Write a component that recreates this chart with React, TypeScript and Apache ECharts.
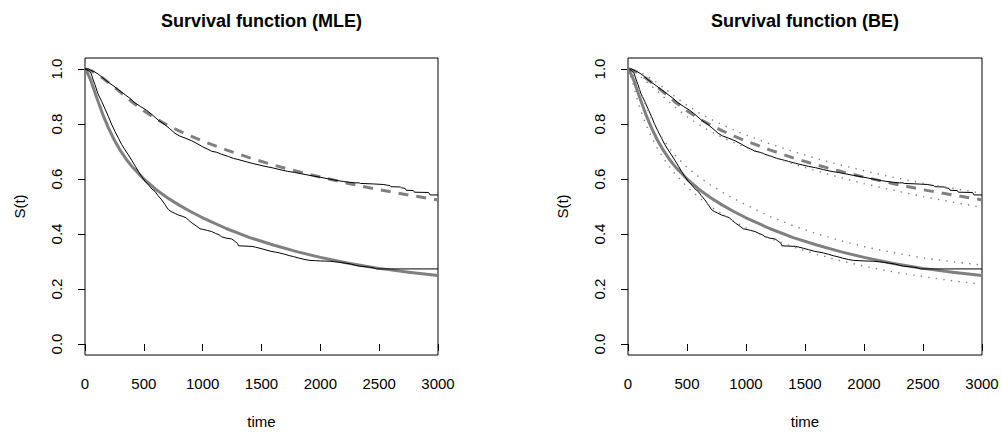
import React, { useEffect, useRef } from "react";
import * as echarts from "echarts";

// ---- data ----
const TIME_GRID = [0, 25, 50, 75, 100, 150, 200, 250, 300, 350, 400, 500, 600, 700, 800, 900, 1000, 1200, 1400, 1600, 1800, 2000, 2250, 2500, 2750, 3000];

// fitted parametric survival curves
const FIT_UPPER = [1.0, 0.998, 0.994, 0.988, 0.981, 0.967, 0.951, 0.934, 0.916, 0.898, 0.88, 0.848, 0.82, 0.796, 0.775, 0.756, 0.738, 0.706, 0.677, 0.651, 0.628, 0.607, 0.583, 0.561, 0.542, 0.524];
const FIT_LOWER = [1.0, 0.982, 0.958, 0.926, 0.895, 0.836, 0.785, 0.741, 0.704, 0.672, 0.645, 0.6, 0.563, 0.532, 0.505, 0.481, 0.459, 0.42, 0.387, 0.36, 0.336, 0.315, 0.293, 0.275, 0.261, 0.249];

// credible bands (BE panel, dotted)
const BAND_UPPER_HI = [1.0, 0.999, 0.997, 0.993, 0.988, 0.977, 0.964, 0.949, 0.933, 0.916, 0.899, 0.868, 0.841, 0.818, 0.797, 0.778, 0.76, 0.728, 0.7, 0.674, 0.651, 0.63, 0.606, 0.585, 0.566, 0.548];
const BAND_UPPER_LO = [1.0, 0.997, 0.991, 0.983, 0.974, 0.956, 0.938, 0.919, 0.899, 0.88, 0.861, 0.827, 0.798, 0.773, 0.751, 0.732, 0.715, 0.684, 0.655, 0.629, 0.605, 0.583, 0.559, 0.536, 0.516, 0.497];
const BAND_LOWER_HI = [1.0, 0.99, 0.972, 0.948, 0.922, 0.868, 0.82, 0.778, 0.742, 0.712, 0.686, 0.643, 0.608, 0.578, 0.552, 0.528, 0.506, 0.464, 0.43, 0.401, 0.376, 0.354, 0.332, 0.313, 0.299, 0.287];
const BAND_LOWER_LO = [1.0, 0.972, 0.935, 0.895, 0.858, 0.8, 0.752, 0.711, 0.676, 0.645, 0.618, 0.572, 0.533, 0.5, 0.471, 0.445, 0.422, 0.385, 0.353, 0.326, 0.303, 0.283, 0.262, 0.245, 0.23, 0.217];

// Kaplan-Meier estimates (traced outline)
const KM_UPPER_T = [0, 30, 50, 80, 110, 140, 170, 200, 240, 283, 330, 380, 425, 470, 520, 567, 620, 680, 720, 765, 800, 850, 907, 960, 1000, 1040, 1076, 1120, 1160, 1218, 1260, 1300, 1360, 1420, 1480, 1530, 1590, 1657, 1720, 1780, 1840, 1912, 1980, 2040, 2100, 2150, 2195, 2250, 2300, 2330, 2340, 2450, 2540, 2560, 2592, 2600, 2680, 2690, 2720, 2730, 2790, 2800, 2920, 2932, 3000];
const KM_UPPER_S = [1, 1, 0.995, 0.99, 0.982, 0.972, 0.961, 0.951, 0.939, 0.925, 0.91, 0.894, 0.877, 0.864, 0.851, 0.835, 0.815, 0.797, 0.783, 0.766, 0.757, 0.749, 0.739, 0.727, 0.717, 0.709, 0.701, 0.697, 0.69, 0.682, 0.675, 0.671, 0.664, 0.657, 0.651, 0.646, 0.641, 0.634, 0.628, 0.624, 0.619, 0.613, 0.608, 0.603, 0.598, 0.594, 0.591, 0.588, 0.586, 0.586, 0.584, 0.582, 0.58, 0.578, 0.576, 0.572, 0.571, 0.568, 0.566, 0.559, 0.558, 0.552, 0.551, 0.542, 0.542];
const KM_LOWER_T = [0, 25, 51, 70, 85, 110, 142, 170, 198, 225, 255, 285, 312, 340, 368, 400, 430, 453, 480, 510, 540, 570, 595, 620, 652, 680, 708, 730, 760, 793, 830, 860, 878, 910, 950, 977, 1000, 1040, 1076, 1110, 1140, 1161, 1200, 1246, 1270, 1295, 1305, 1420, 1450, 1487, 1530, 1580, 1620, 1657, 1700, 1740, 1771, 1820, 1870, 1912, 1960, 2000, 2080, 2167, 2210, 2260, 2300, 2337, 2380, 2420, 2460, 2479, 3000];
const KM_LOWER_S = [1, 0.995, 0.985, 0.96, 0.943, 0.91, 0.882, 0.855, 0.828, 0.8, 0.773, 0.748, 0.725, 0.706, 0.688, 0.666, 0.645, 0.628, 0.61, 0.592, 0.578, 0.563, 0.555, 0.54, 0.524, 0.507, 0.489, 0.482, 0.476, 0.469, 0.464, 0.459, 0.451, 0.44, 0.428, 0.419, 0.417, 0.413, 0.409, 0.402, 0.397, 0.39, 0.385, 0.382, 0.375, 0.366, 0.357, 0.355, 0.352, 0.348, 0.343, 0.337, 0.334, 0.331, 0.326, 0.321, 0.318, 0.312, 0.307, 0.304, 0.303, 0.302, 0.301, 0.297, 0.294, 0.291, 0.286, 0.283, 0.281, 0.279, 0.276, 0.273, 0.273];

const X_TICKS = [0, 500, 1000, 1500, 2000, 2500, 3000];
const Y_TICKS = [0, 0.2, 0.4, 0.6, 0.8, 1.0];
const TITLES = ["Survival function (MLE)", "Survival function (BE)"];
const X_NAME = "time";
const Y_NAME = "S(t)";

const FONT = "'Liberation Sans', Arial, Helvetica, sans-serif";
const GRAY = "#808080";

const pairs = (xs: number[], ys: number[]) => xs.map((x, i) => [x, ys[i]]);

export default function App() {
  const ref = useRef<HTMLDivElement>(null);
  useEffect(() => {
    if (!ref.current) return;
    const chart = echarts.init(ref.current, null, { renderer: "svg" });
    const grids = [
      { left: 85, top: 58, width: 353, height: 297 },
      { left: 628, top: 58, width: 354, height: 297 },
    ];
    const centers = [261.5, 805];
    const xAxes = grids.map((_, i) => ({
      type: "value",
      gridIndex: i,
      min: 0,
      max: 3000,
      interval: 500,
      axisLine: { show: false },
      axisTick: { show: true, length: 7, lineStyle: { color: "#000", width: 1 }, customValues: X_TICKS },
      axisLabel: {
        show: true, margin: 21, color: "#000", fontSize: 15, fontFamily: FONT, customValues: X_TICKS,
        formatter: (v: number) => String(v),
      },
      splitLine: { show: false },
    }));
    const yAxes = grids.map((_, i) => ({
      type: "value",
      gridIndex: i,
      min: -0.04,
      max: 1.04,
      axisLine: { show: false },
      axisTick: { show: true, length: 7, lineStyle: { color: "#000", width: 1 }, customValues: Y_TICKS },
      axisLabel: {
        show: true, rotate: 90, margin: 21, color: "#000", fontSize: 15, fontFamily: FONT, customValues: Y_TICKS,
        formatter: (v: number) => v.toFixed(1),
      },
      splitLine: { show: false },
    }));

    const series: any[] = [];
    for (let i = 0; i < 2; i++) {
      series.push({
        type: "line", xAxisIndex: i, yAxisIndex: i, symbol: "none",
        data: pairs(TIME_GRID, FIT_UPPER), lineStyle: { color: GRAY, width: 3, type: [10, 8], cap: "butt", join: "round" }, z: 2,
      });
      series.push({
        type: "line", xAxisIndex: i, yAxisIndex: i, symbol: "none",
        data: pairs(TIME_GRID, FIT_LOWER), lineStyle: { color: GRAY, width: 3, join: "round" }, z: 2,
      });
      series.push({
        type: "line", xAxisIndex: i, yAxisIndex: i, symbol: "none",
        data: pairs(KM_UPPER_T, KM_UPPER_S), lineStyle: { color: "#000", width: 1 }, z: 3,
      });
      series.push({
        type: "line", xAxisIndex: i, yAxisIndex: i, symbol: "none",
        data: pairs(KM_LOWER_T, KM_LOWER_S), lineStyle: { color: "#000", width: 1 }, z: 3,
      });
    }
    [BAND_UPPER_HI, BAND_UPPER_LO, BAND_LOWER_HI, BAND_LOWER_LO].forEach((b) => {
      series.push({
        type: "line", xAxisIndex: 1, yAxisIndex: 1, symbol: "none",
        data: pairs(TIME_GRID, b), lineStyle: { color: GRAY, width: 1.4, type: [1.4, 6.2] }, z: 4,
      });
    });

    const graphic: any[] = [];
    centers.forEach((cx, i) => {
      graphic.push({
        type: "text", x: cx, y: 21,
        style: { text: TITLES[i], textAlign: "center", textVerticalAlign: "middle", fontSize: 18, fontWeight: "bold", fontFamily: FONT, fill: "#000" },
      });
      graphic.push({
        type: "text", x: cx, y: 421,
        style: { text: X_NAME, textAlign: "center", textVerticalAlign: "middle", fontSize: 15, fontFamily: FONT, fill: "#000" },
      });
      graphic.push({
        type: "text", x: i === 0 ? 19 : 562, y: 206.5, rotation: Math.PI / 2,
        style: { text: Y_NAME, textAlign: "center", textVerticalAlign: "middle", fontSize: 15, fontFamily: FONT, fill: "#000" },
      });
    });

    chart.setOption({
      animation: false,
      backgroundColor: "#fff",
      grid: grids.map((g) => ({ ...g, show: true, borderColor: "#000", borderWidth: 1, backgroundColor: "transparent" })),
      xAxis: xAxes,
      yAxis: yAxes,
      series,
      graphic,
    });
    return () => chart.dispose();
  }, []);
  return <div ref={ref} style={{ position: "fixed", left: 0, top: 0, width: 1002, height: 434, background: "#fff" }} />;
}
